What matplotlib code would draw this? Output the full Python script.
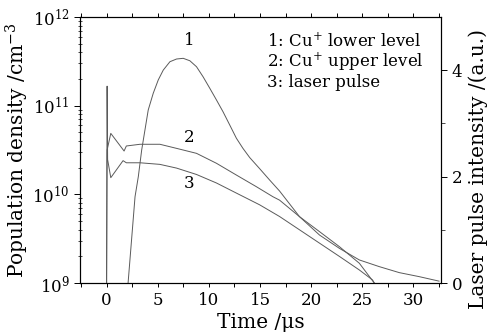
import matplotlib
matplotlib.use("Agg")
import matplotlib.pyplot as plt
from matplotlib.ticker import MultipleLocator, LogLocator, NullFormatter, FixedLocator

plt.rcParams['font.family'] = ['DejaVu Serif']
plt.rcParams['mathtext.fontset'] = 'dejavuserif'

# Curve 1: Cu+ lower level (population density, cm^-3)
t1 = [2.10, 2.78, 3.10, 3.43, 3.75, 4.07, 4.56, 5.05, 5.54, 6.19, 6.84, 7.49,
      8.14, 8.79, 9.43, 10.09, 10.74, 11.38, 12.04, 12.69, 13.33, 13.99, 14.96,
      15.94, 16.91, 17.89, 18.86, 20.81, 22.76, 24.71, 26.66, 28.61, 30.56, 32.5]
n1 = [1.0e9, 9.4e9, 1.58e10, 3.16e10, 5.32e10, 8.94e10, 1.38e11, 1.95e11, 2.52e11,
      3.13e11, 3.36e11, 3.42e11, 3.21e11, 2.75e11, 2.12e11, 1.57e11, 1.16e11,
      8.55e10, 6.05e10, 4.29e10, 3.3e10, 2.6e10, 1.95e10, 1.45e10, 1.09e10,
      7.8e9, 5.6e9, 3.48e9, 2.46e9, 1.82e9, 1.53e9, 1.31e9, 1.18e9, 1.05e9]

# Curve 2: Cu+ upper level (population density, cm^-3)
t2 = [0.0, 0.05, 0.41, 1.71, 1.93, 3.27, 5.21, 6.84, 8.79, 10.74, 12.69, 14.64,
      16.26, 16.91, 18.86, 20.81, 22.76, 24.71, 26.17]
n2 = [1.0e9, 3.16e10, 4.87e10, 3.08e10, 3.51e10, 3.67e10, 3.67e10, 3.3e10, 2.9e10,
      2.24e10, 1.65e10, 1.22e10, 9.4e9, 8.6e9, 5.6e9, 3.8e9, 2.57e9, 1.67e9, 1.0e9]

# Curve 3: laser pulse intensity (a.u.)
t3 = [0.0, 0.05, 0.1, 0.41, 1.61, 1.93, 3.27, 5.21, 6.84, 8.79, 10.74, 12.69,
      14.96, 16.91, 18.86, 20.81, 22.76, 24.71, 26.0, 26.17]
p3 = [0.0, 3.70, 2.32, 1.98, 2.30, 2.26, 2.26, 2.23, 2.16, 2.04, 1.88, 1.69,
      1.47, 1.25, 1.0, 0.75, 0.50, 0.245, 0.057, 0.0]

legend_lines = ["1: Cu$^{+}$ lower level", "2: Cu$^{+}$ upper level", "3: laser pulse"]

fig = plt.figure(figsize=(4.89, 3.36), dpi=100)
ax = fig.add_axes([0.1636, 0.1577, 0.7384, 0.7917])
ax2 = ax.twinx()

lc = '#5a5a5a'
lw = 0.7
ax.plot(t1, n1, color=lc, lw=lw)
ax.plot(t2, n2, color=lc, lw=lw)
ax2.plot(t3, p3, color=lc, lw=lw)

ax.set_yscale('log')
ax.set_ylim(1e9, 1e12)
ax.set_xlim(-2.6, 32.7)
ax2.set_ylim(0, 5)

fs = 12
lfs = 14.5
ax.xaxis.set_major_locator(MultipleLocator(5))
ax.xaxis.set_minor_locator(MultipleLocator(2.5))
ax.yaxis.set_major_locator(LogLocator(base=10, numticks=10))
ax.yaxis.set_minor_locator(LogLocator(base=10, subs=range(2, 10), numticks=10))
ax.yaxis.set_minor_formatter(NullFormatter())
ax2.yaxis.set_major_locator(FixedLocator([0, 2, 4]))
ax2.yaxis.set_minor_locator(FixedLocator([1, 3]))

ax.tick_params(axis='x', which='both', direction='out', top=True, labelsize=fs,
               length=3, width=0.7)
ax.tick_params(axis='y', which='major', direction='out', length=4, width=0.7, labelsize=fs)
ax.tick_params(axis='y', which='minor', direction='inout', length=3, width=0.5)
ax2.tick_params(axis='y', which='major', direction='out', length=4, width=0.7, labelsize=fs)
ax2.tick_params(axis='y', which='minor', direction='out', length=3, width=0.5)
for a in (ax, ax2):
    for s in a.spines.values():
        s.set_linewidth(0.8)

ax.set_xlabel('Time /μs', fontsize=lfs, labelpad=3)
ax.set_ylabel('Population density /cm$^{-3}$', fontsize=lfs, labelpad=1)
ax2.set_ylabel('Laser pulse intensity /(a.u.)', fontsize=lfs)
ax2.yaxis.set_label_coords(1.075, 0.43)

ax.text(8.04, 5.4e11, '1', fontsize=fs, ha='center', va='center')
ax.text(8.04, 4.4e10, '2', fontsize=fs, ha='center', va='center')
ax.text(8.04, 1.34e10, '3', fontsize=fs, ha='center', va='center')

ys = [0.907, 0.832, 0.752]
for s, y in zip(legend_lines, ys):
    ax.text(0.519, y, s, transform=ax.transAxes, fontsize=fs, ha='left', va='center')

fig.savefig('out.png', dpi=100)
